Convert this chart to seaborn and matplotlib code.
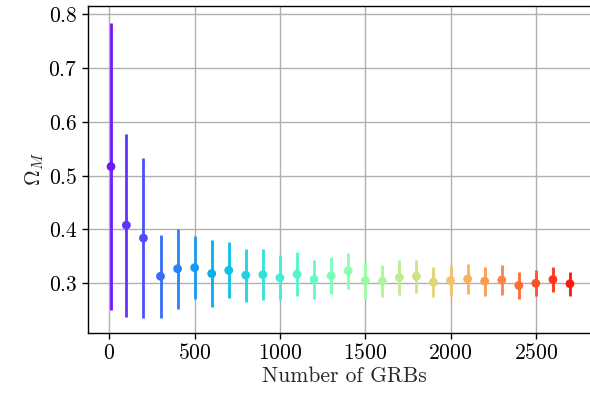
import matplotlib
matplotlib.use("Agg")
import matplotlib.pyplot as plt
import numpy as np
import pandas as pd
import seaborn as sns

# Number of GRBs in each sample
n_grbs = [10, 100, 200, 300, 400, 500, 600, 700, 800, 900, 1000,
          1100, 1200, 1300, 1400, 1500, 1600, 1700, 1800, 1900, 2000,
          2100, 2200, 2300, 2400, 2500, 2600, 2700]
# Best-fit Omega_M for each sample
omega_m = [0.517, 0.408, 0.384, 0.313, 0.327, 0.329, 0.318, 0.324, 0.315, 0.316, 0.310,
           0.317, 0.307, 0.314, 0.323, 0.305, 0.304, 0.311, 0.313, 0.302, 0.305,
           0.308, 0.304, 0.306, 0.296, 0.300, 0.307, 0.299]
# 1-sigma uncertainty on Omega_M
omega_err = [0.267, 0.170, 0.148, 0.077, 0.074, 0.059, 0.063, 0.052, 0.049, 0.047, 0.042,
             0.041, 0.036, 0.034, 0.033, 0.034, 0.030, 0.032, 0.031, 0.028, 0.029,
             0.028, 0.027, 0.028, 0.025, 0.024, 0.023, 0.022]

df = pd.DataFrame({"n": n_grbs, "om": omega_m, "err": omega_err})
df["idx"] = np.arange(len(df))

sns.set_style("ticks", {"axes.grid": True, "grid.color": "#b0b0b0",
                        "axes.edgecolor": "black", "xtick.direction": "out",
                        "ytick.direction": "out"})
plt.rcParams["font.family"] = "serif"
plt.rcParams["font.serif"] = ["cmr10", "DejaVu Serif"]
plt.rcParams["mathtext.fontset"] = "cm"
plt.rcParams["axes.formatter.use_mathtext"] = True
plt.rcParams["axes.unicode_minus"] = False

colors = sns.color_palette("rainbow", len(df))

fig = plt.figure(figsize=(5.9, 3.98), dpi=100)
ax = fig.add_axes([88 / 590, 1 - 333 / 398, 512 / 590, (333 - 5.5) / 398])

for i, row in df.iterrows():
    ax.errorbar(row["n"], row["om"], yerr=row["err"], fmt="none",
                ecolor=colors[i], elinewidth=2, capsize=0, zorder=2)

sns.scatterplot(data=df, x="n", y="om", hue="idx", palette=colors,
                s=40, edgecolor="none", legend=False, ax=ax, zorder=3)

ax.set_xlim(-125, 2876)
ax.set_ylim(0.2075, 0.8165)
ax.set_xticks([0, 500, 1000, 1500, 2000, 2500])
ax.set_yticks([0.3, 0.4, 0.5, 0.6, 0.7, 0.8])
ax.tick_params(labelsize=15.5, length=4, width=1, colors="black")
ax.grid(True, color="#b0b0b0", linewidth=1)
for s in ax.spines.values():
    s.set_visible(True)
    s.set_color("black")
    s.set_linewidth(1)
ax.set_xlabel("Number of GRBs", fontsize=15.5, labelpad=2)
ax.set_ylabel(r"$\Omega_M$", fontsize=15.5, labelpad=2)

fig.savefig("out.png", dpi=100)
